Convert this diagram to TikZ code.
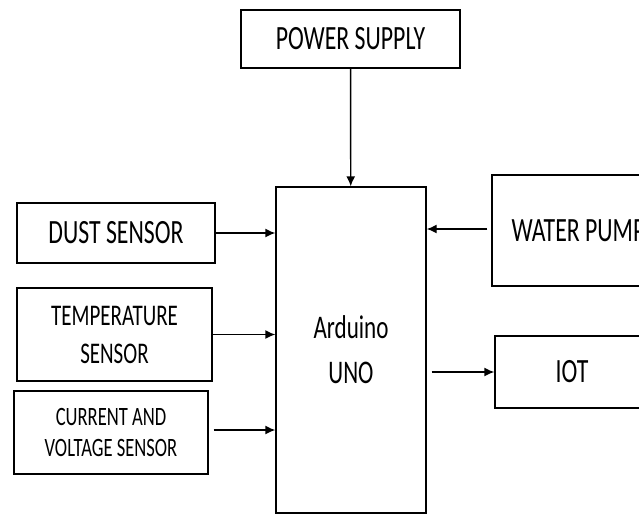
\documentclass[tikz,border=0pt]{standalone}
\usepackage{fontspec}
\setmainfont{Carlito}[FakeStretch=0.7]
\usetikzlibrary{arrows.meta}

\begin{document}
\begin{tikzpicture}[x=1pt,y=-1pt,
	block/.style={draw, line width=1.4pt, align=center, inner sep=0pt},
	arr/.style={line width=1.4pt, -{Latex[length=10pt,width=9pt]}}]
			\useasboundingbox (0,0) rectangle (639,515);
			\clip (0,0) rectangle (639,515);
			\node[block, minimum width=219pt, minimum height=58pt, font=\fontsize{34}{40}\selectfont] (power) at (350.5,39) {POWER SUPPLY};
			\node[block, minimum width=150pt, minimum height=326pt, font=\fontsize{33}{45}\selectfont] (uno) at (351,350) {Arduino\\UNO};
			\node[block, minimum width=198pt, minimum height=60pt, font=\fontsize{34}{40}\selectfont] (dust) at (116,233) {DUST SENSOR};
			\node[block, minimum width=195pt, minimum height=93pt, font=\fontsize{30}{38}\selectfont] (temp) at (114.5,334.5) {TEMPERATURE\\SENSOR};
			\node[block, minimum width=194pt, minimum height=83pt, font=\fontsize{26.5}{31}\selectfont] (curr) at (111,432.5) {CURRENT AND\\VOLTAGE SENSOR};
			\node[block, minimum width=173pt, minimum height=111pt, font=\fontsize{34}{40}\selectfont] (pump) at (578.5,230.5) {WATER PUMP};
			\node[block, minimum width=154pt, minimum height=72pt, font=\fontsize{34}{40}\selectfont] (iot) at (572,372) {IOT};
			\draw[arr] (power) -- (uno);
			\draw[arr] (dust.east) -- (dust.east -| uno.west);
			\draw[arr] (temp.east) -- (temp.east -| uno.west);
			\draw[arr] ([xshift=5pt,yshift=2.5pt]curr.east) -- ([yshift=2.5pt]curr.east -| uno.west);
			\draw[arr] ([xshift=-4pt,yshift=1.5pt]pump.west) -- ([yshift=1.5pt]pump.west -| uno.east);
			\draw[arr] ([xshift=5pt]uno.east |- iot.west) -- (iot.west);
\end{tikzpicture}
\end{document}
